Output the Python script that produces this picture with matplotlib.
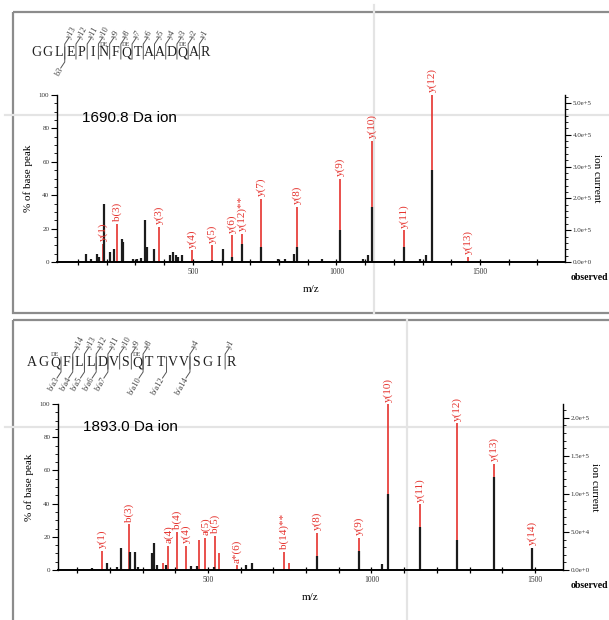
"""Two MS/MS spectra (1690.8 Da and 1893.0 Da ions), annotated peptide fragments."""
import matplotlib
matplotlib.use("Agg")
import matplotlib.pyplot as plt
from matplotlib.patches import Rectangle
from matplotlib.ticker import MultipleLocator, FuncFormatter

SERIF = "Liberation Serif"
SANS = "Liberation Sans"
RED = "#e5322d"
BLK = "#1c1c1c"

# ---------- data: top spectrum (1690.8 Da ion) ----------
top_seq = "GGLEPINFQTAADQAR"
top_yions = [13, 12, 11, 10, 9, 8, 7, 6, 5, 4, 3, 2, 1]
top_bions = [3]
top_de = [6, 8, 13]
top_red_mz = [186, 237, 383, 498, 566, 637, 671, 737, 864, 1011, 1125, 1237, 1334, 1458]
top_red_int = [11, 23, 21, 7, 10, 16, 17, 38, 33, 50, 72.5, 19, 100, 3]
top_red_lab = ["y(1)", "b(3)", "y(3)", "y(4)", "y(5)", "y(6)", "y(12)**", "y(7)", "y(8)",
               "y(9)", "y(10)", "y(11)", "y(12)", "y(13)"]
top_blk_mz = [128, 145, 165, 172, 190, 213, 225, 253, 258, 290, 305, 318, 335, 339, 364,
              420, 432, 441, 448, 463, 566, 605, 637, 671, 737, 797, 820, 853, 864,
              951, 1011, 1092, 1110, 1125, 1237, 1290, 1313, 1334]
top_blk_int = [5, 1.5, 5, 3, 35, 6, 8, 14, 12, 1.5, 1.5, 2.5, 25, 9, 8,
               4, 6, 4, 3, 4, 1, 8, 3, 11, 9, 1.5, 1.5, 4.5, 9,
               1.5, 19, 1.5, 4, 33, 9, 1.5, 4, 55]
top_ic_max = 5.25e5

# ---------- data: bottom spectrum (1893.0 Da ion) ----------
bot_seq = "AGQFLLDVSQTTVVSGIR"
bot_yions = [14, 13, 12, 11, 10, 9, 8, 4, 1]
bot_bions = [3, 4, 5, 6, 7, 10, 12, 14]
bot_de = [2, 9]
bot_red_mz = [177, 259, 361, 379, 406, 433, 473, 492, 521, 534, 588, 732, 749,
              834, 963, 1051, 1148, 1263, 1376, 1490]
bot_red_int = [11.5, 27.5, 4, 14.5, 23, 14.5, 18, 19.5, 20.5, 10, 3, 11, 4,
               22.5, 19.5, 100, 39.6, 88.5, 64, 13.5]
bot_red_lab = ["y(1)", "b(3)", "", "a(4)", "b(4)", "y(4)", "", "a(5)", "b(5)", "", "a*(6)",
               "b(14)**", "", "y(8)", "y(9)", "y(10)", "y(11)", "y(12)", "y(13)", "y(14)"]
bot_blk_mz = [146, 190, 221, 234, 262, 278, 287, 328, 335, 343, 372, 447, 465, 519,
              616, 635, 834, 963, 1031, 1051, 1148, 1263, 1376, 1490]
bot_blk_int = [1.5, 4, 2, 13, 11, 11, 2, 10, 16.5, 3, 3, 2.5, 2.5, 2,
               3, 4, 8.5, 11.7, 3.6, 46, 26, 18, 56, 13]
bot_ic_max = 2.18e5

W, H = 609, 620
fig = plt.figure(figsize=(W / 100, H / 100), dpi=100)

# overlay in pixel coordinates for frames, scan lines and sequence maps
ov = fig.add_axes([0, 0, 1, 1], zorder=0)
ov.set_xlim(0, W); ov.set_ylim(H, 0); ov.axis("off")
for (x, y, w, h) in [(13, 12, 640, 301), (13, 320, 640, 330)]:
    ov.add_patch(Rectangle((x, y), w, h, fill=False, ec="#8c8c8c", lw=1.6))
for x, y0, y1 in [(374, 5, 313), (407, 320, 620)]:
    ov.plot([x, x], [y0, y1], color="#e4e4e4", lw=1.6)
for y in [115, 427]:
    ov.plot([5, W], [y, y], color="#e4e4e4", lw=1.6)
ov.text(571, 278, "observed", family=SERIF, fontsize=7, weight="bold", va="center")
ov.text(571, 586, "observed", family=SERIF, fontsize=7, weight="bold", va="center")


def draw_seq(seq, x0, x1, yc, yions, bions, de, bfmt):
    step = (x1 - x0) / (len(seq) - 1)
    for i, ch in enumerate(seq):
        ov.text(x0 + i * step, yc, ch, family=SERIF, fontsize=10, color="#222",
                ha="center", va="center")
    for i in de:
        ov.text(x0 + i * step, yc - 8.5, "DE", family=SERIF, fontsize=4.5, color="#444",
                ha="center", va="center")
    lc = dict(color="#555", lw=0.7)
    for n in yions:
        xb = x0 + (len(seq) - n - 0.5) * step
        ov.plot([xb, xb, xb + 4], [yc + 6, yc - 9, yc - 15], **lc)
        ov.text(xb + 3.5, yc - 15.5, f"y{n}", family=SERIF, fontsize=6, color="#444",
                rotation=60, rotation_mode="anchor", ha="left", va="center")
    for n in bions:
        xb = x0 + (n - 0.5) * step
        ov.plot([xb, xb, xb - 4], [yc - 6, yc + 9, yc + 15], **lc)
        ov.text(xb - 3.5, yc + 15.5, bfmt.format(n), family=SERIF, fontsize=6, color="#444",
                rotation=60, rotation_mode="anchor", ha="right", va="center")


draw_seq(top_seq, 36.7, 205, 53, top_yions, top_bions, top_de, "b{}")
draw_seq(bot_seq, 31.7, 231, 363, bot_yions, bot_bions, bot_de, "b/a{}")


def sci(v, _):
    if v == 0:
        return "0.0e+0"
    e = 0
    while abs(v) >= 10:
        v /= 10; e += 1
    return f"{v:.1f}e+{e}"


def spectrum(box, xlim, rmz, rint, rlab, bmz, bint, icmax, icstep, icminor, title):
    l, t, r, b = box
    ax = fig.add_axes([l / W, 1 - b / H, (r - l) / W, (b - t) / H], zorder=2)
    ax.patch.set_alpha(0)
    ax.vlines(rmz, 0, rint, color=RED, lw=1.2)
    ax.vlines(bmz, 0, bint, color=BLK, lw=1.6)
    for m, v, lab in zip(rmz, rint, rlab):
        if lab:
            ax.text(m, v + 1.5, lab, rotation=90, ha="center", va="bottom", color=RED,
                    family=SERIF, fontsize=8)
    ax.set_xlim(*xlim); ax.set_ylim(0, 100)
    for s in ("top", "right"):
        ax.spines[s].set_visible(False)
    ax.spines["left"].set_linewidth(1.0)
    ax.spines["bottom"].set_linewidth(1.4)
    ax.set_xticks([500, 1000, 1500])
    ax.xaxis.set_minor_locator(MultipleLocator(100))
    ax.set_yticks(range(0, 101, 20))
    ax.yaxis.set_minor_locator(MultipleLocator(5))
    ax.tick_params(axis="x", which="major", direction="inout", length=5, width=0.9,
                   labelsize=5.5, pad=2, labelcolor="#333")
    ax.tick_params(axis="x", which="minor", direction="inout", length=4, width=0.9)
    ax.tick_params(axis="y", which="major", direction="out", length=4, width=0.8,
                   labelsize=5, pad=1.5, labelcolor="#333")
    ax.tick_params(axis="y", which="minor", direction="out", length=2, width=0.6)
    for lab in ax.get_xticklabels() + ax.get_yticklabels():
        lab.set_family(SERIF)
    ax.set_ylabel("% of base peak", family=SERIF, fontsize=8, labelpad=4)
    ax.set_xlabel("m/z", family=SERIF, fontsize=8, labelpad=6)
    ax.text(0.049, 0.86, title, transform=ax.transAxes, family=SANS, fontsize=11, va="center")

    ax2 = ax.twinx()
    ax2.set_ylim(0, icmax)
    for s in ("top", "left", "bottom"):
        ax2.spines[s].set_visible(False)
    ax2.spines["right"].set_linewidth(1.0)
    ax2.yaxis.set_major_locator(MultipleLocator(icstep))
    ax2.yaxis.set_minor_locator(MultipleLocator(icminor))
    ax2.yaxis.set_major_formatter(FuncFormatter(sci))
    ax2.tick_params(axis="y", which="major", direction="out", length=4, width=0.8,
                    labelsize=5, pad=1.5, labelcolor="#333")
    ax2.tick_params(axis="y", which="minor", direction="out", length=2, width=0.6)
    for lab in ax2.get_yticklabels():
        lab.set_family(SERIF)
    ax2.set_ylabel("ion current", family=SERIF, fontsize=8, rotation=270, labelpad=7)
    return ax


spectrum((57, 95, 565, 262), (27, 1796), top_red_mz, top_red_int, top_red_lab,
         top_blk_mz, top_blk_int, top_ic_max, 1e5, 2e4, "1690.8 Da ion")
spectrum((58, 404, 563, 570), (41, 1586), bot_red_mz, bot_red_int, bot_red_lab,
         bot_blk_mz, bot_blk_int, bot_ic_max, 5e4, 1e4, "1893.0 Da ion")

fig.savefig("out.png", dpi=100)
